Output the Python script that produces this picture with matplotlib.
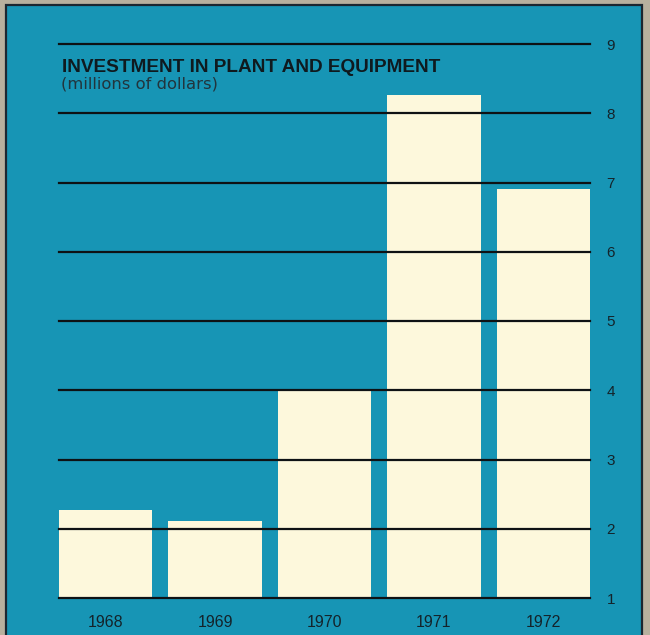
import matplotlib.pyplot as plt
from matplotlib.patches import Rectangle

# investment in plant and equipment, millions of dollars
years = ["1968", "1969", "1970", "1971", "1972"]
investment = [2.27, 2.11, 4.0, 8.26, 6.9]
grid_levels = [1, 2, 3, 4, 5, 6, 7, 8, 9]

teal = "#1795b5"
cream = "#fdf8dc"
ink = "#14232a"

plt.rcParams["font.family"] = ["Liberation Sans", "DejaVu Sans"]

fig = plt.figure(figsize=(6.5, 6.35), dpi=100, facecolor="#b7b09e")
# the teal panel with its dark border
fig.patches.append(Rectangle((6 / 650, -0.01), 636 / 650, (635 - 5) / 635 + 0.01,
                             transform=fig.transFigure, facecolor=teal,
                             edgecolor="#1b2630", linewidth=1.6, zorder=-5))

ax = fig.add_axes([59 / 650, 37 / 635, 531 / 650, 554 / 635])
ax.set_facecolor("none")

x = list(range(len(years)))
w = 0.85
ax.bar(x, [v - 1 for v in investment], bottom=1, width=w, color=cream,
       zorder=2)
for lvl in grid_levels:
    ax.axhline(lvl, color="#0e1214", linewidth=1.6, zorder=3, clip_on=False)

ax.set_xlim(-w / 2, len(years) - 1 + w / 2)
ax.set_ylim(1, 9)
for s in ax.spines.values():
    s.set_visible(False)

ax.yaxis.tick_right()
ax.set_yticks(grid_levels)
ax.set_yticklabels([str(v) for v in grid_levels])
ax.tick_params(axis="y", length=0, pad=12, labelsize=11, labelcolor=ink)
ax.set_xticks(x)
ax.set_xticklabels(years)
ax.tick_params(axis="x", length=0, pad=12, labelsize=11.5, labelcolor=ink)

fig.text(62 / 650, 1 - 68 / 635, "INVESTMENT IN PLANT AND EQUIPMENT",
         fontsize=13.7, fontweight="bold", color="#0f1a1f", va="center",
         ha="left")
fig.text(61 / 650, 1 - 84 / 635, "(millions of dollars)",
         fontsize=11.8, color="#22343c", va="center", ha="left",
         family="DejaVu Sans")

plt.savefig("out.png", dpi=100, facecolor=fig.get_facecolor())
